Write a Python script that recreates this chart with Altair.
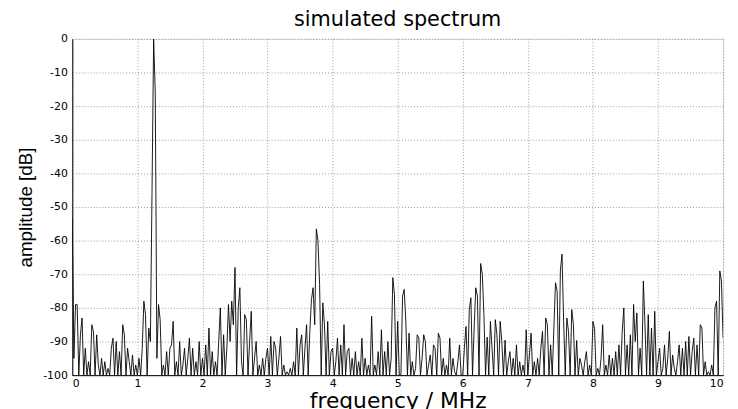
import altair as alt
import pandas as pd

amp_0 = [-53, -95, -79, -79, -100, -88, -83, -100, -92, -100,
         -96, -100, -85, -87, -100, -88, -97, -100, -95, -100,
         -96, -100, -98, -100, -92, -89, -100, -90, -100, -93,
         -100, -85, -88, -100, -92, -96, -100, -94, -100, -97]
amp_1 = [-100, -95, -100, -92, -78, -82, -100, -86, -90, -46,
         0, -16, -95, -79, -83.5, -100, -97, -100, -93, -100,
         -92, -91, -84, -100, -96, -100, -90, -100, -97, -92,
         -100, -95, -89, -100, -92, -100, -96, -100, -90, -100]
amp_2 = [-95, -100, -91, -100, -86, -100, -93, -100, -96, -100,
         -90, -80, -100, -88, -100, -92, -79, -90, -78, -85,
         -68, -100, -80, -74, -96, -100, -82, -83.5, -100, -90,
         -81, -100, -95, -90, -100, -97, -100, -95, -100, -95]
amp_3 = [-92, -100, -88.5, -100, -90, -92, -100, -95, -88.5, -100,
         -97, -100, -99, -100, -98, -100, -96, -100, -86, -100,
         -91, -88, -100, -92, -85, -100, -87, -77.5, -74, -85,
         -56.5, -60, -73, -100, -78.5, -85, -100, -84, -100, -93]
amp_4 = [-92, -100, -96, -89, -100, -91, -100, -85, -100, -93,
         -92, -100, -95, -100, -93, -100, -96, -100, -89, -100,
         -95, -100, -97, -100, -82.5, -100, -97, -100, -93, -100,
         -86.5, -100, -93, -100, -90, -100, -95, -71, -76, -100]
amp_5 = [-84, -100, -100, -76.5, -74.5, -84, -100, -87.5, -100, -96,
         -100, -98, -88, -89, -100, -95, -88, -90, -100, -97,
         -94, -100, -91, -92, -100, -87.5, -89, -100, -95, -100,
         -97, -100, -89, -100, -95, -99, -100, -96, -91, -100]
amp_6 = [-100, -92, -85.5, -100, -80.5, -77, -100, -86, -74, -76.5,
         -100, -66.8, -70, -82, -100, -88.7, -100, -84, -92, -100,
         -83.5, -88, -100, -84, -90, -100, -89.6, -100, -96, -93,
         -100, -95, -100, -91, -100, -96, -100, -97, -100, -86.5]
amp_7 = [-100, -94, -87.5, -100, -96, -100, -95, -100, -92, -87,
         -100, -83, -85, -100, -91, -100, -86, -72.5, -75, -100,
         -69, -64, -84, -100, -83, -87, -100, -80.5, -85, -100,
         -89.7, -100, -95, -97, -100, -96, -93, -100, -97, -100]
amp_8 = [-84, -86, -100, -98, -100, -95, -85, -100, -97, -100,
         -94, -100, -95, -100, -93, -100, -91, -100, -87, -80,
         -100, -91, -100, -88, -100, -79, -90, -81.5, -100, -92,
         -100, -72, -85, -100, -82, -100, -86, -100, -81, -100]
amp_9 = [-96, -92, -100, -98, -91, -100, -95, -87, -100, -94,
         -98, -100, -96, -91, -100, -92, -100, -90, -100, -88.5,
         -100, -93, -89, -100, -91, -100, -85, -86, -100, -96,
         -100, -99, -100, -97, -100, -80, -78, -100, -69, -72, -89]

freq_step_mhz = 0.025
x_ticks = [0, 1, 2, 3, 4, 5, 6, 7, 8, 9, 10]
y_ticks = [0, -10, -20, -30, -40, -50, -60, -70, -80, -90, -100]

amp = amp_0 + amp_1 + amp_2 + amp_3 + amp_4 + amp_5 + amp_6 + amp_7 + amp_8 + amp_9
df = pd.DataFrame({
    "freq": [round(i * freq_step_mhz, 3) for i in range(len(amp))],
    "amp": amp,
})

grid_color = "#9a9a9a"

chart = alt.Chart(df).mark_line(color="black", strokeWidth=0.9, clip=True).encode(
    x=alt.X("freq:Q",
            scale=alt.Scale(domain=[0, 10], nice=False, zero=False),
            axis=alt.Axis(values=x_ticks, title="frequency / MHz",
                          labelExpr="'' + datum.value",
                          labelFont="DejaVu Sans", labelFontSize=11, labelColor="black",
                          labelPadding=2, ticks=False,
                          titleFont="DejaVu Sans", titleFontSize=22, titleFontWeight="normal",
                          titleColor="black", titlePadding=3,
                          grid=True, gridColor=grid_color, gridDash=[1, 2], gridWidth=1,
                          domainColor="black")),
    y=alt.Y("amp:Q",
            scale=alt.Scale(domain=[-100, 0], nice=False, zero=False),
            axis=alt.Axis(values=y_ticks, title="amplitude [dB]",
                          labelExpr="'' + datum.value",
                          labelFont="DejaVu Sans", labelFontSize=11, labelColor="black",
                          labelPadding=5, ticks=False,
                          titleFont="Liberation Sans", titleFontSize=19,
                          titleFontWeight="normal", titleColor="black", titlePadding=7,
                          grid=True, gridColor=grid_color, gridDash=[1, 2], gridWidth=1,
                          domainColor="black")),
).properties(
    width=658,
    height=340,
    title=alt.TitleParams("simulated spectrum", font="DejaVu Sans", fontSize=21,
                          fontWeight="normal", color="black", anchor="middle",
                          offset=3),
    autosize=alt.AutoSizeParams(type="none"),
    padding={"left": 65, "top": 29, "right": 7, "bottom": 32},
).configure_view(stroke="black", strokeWidth=1).configure(background="white")

chart.save("out.html", embed_options={"renderer": "svg", "actions": False})
